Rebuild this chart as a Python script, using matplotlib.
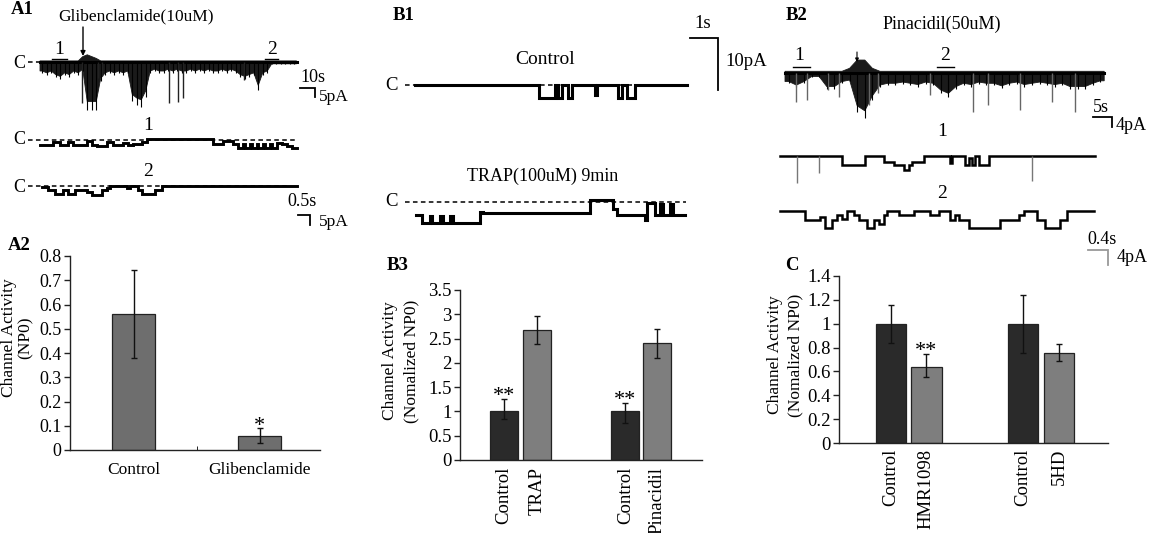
import numpy as np
import matplotlib
matplotlib.use('Agg')
import matplotlib.pyplot as plt
from matplotlib.ticker import FuncFormatter

W, H = 1153, 533
plt.rcParams['font.family'] = ['Liberation Serif', 'DejaVu Serif']

# ------------------------------------------------------------------ data
# A2 bar chart
a2_cats = ['Control', 'Glibenclamide']
a2_vals = [0.561, 0.058]
a2_lo = [0.180, 0.031]
a2_hi = [0.181, 0.031]
a2_sig = ['', '*']
a2_yticks = [0, 0.1, 0.2, 0.3, 0.4, 0.5, 0.6, 0.7, 0.8]

# B3 bar chart
b3_cats = ['Control', 'TRAP', 'Control', 'Pinacidil']
b3_vals = [1.00, 2.67, 1.00, 2.40]
b3_lo = [0.16, 0.29, 0.24, 0.31]
b3_hi = [0.25, 0.29, 0.17, 0.30]
b3_sig = ['**', '', '**', '']
b3_yticks = [0, 0.5, 1, 1.5, 2, 2.5, 3, 3.5]

# C bar chart
c_cats = ['Control', 'HMR1098', 'Control', '5HD']
c_vals = [1.00, 0.641, 1.00, 0.751]
c_lo = [0.163, 0.089, 0.249, 0.062]
c_hi = [0.157, 0.104, 0.241, 0.078]
c_sig = ['', '**', '', '']
c_yticks = [0, 0.2, 0.4, 0.6, 0.8, 1, 1.2, 1.4]

# A1 overview trace (3-s bins): downward / upward envelope (pA)
a1_bin_s = 3.0
a1_depth = [5, 6, 5, 7, 8, 6, 7, 5, 6, 4,
            22, 22, 22, 9, 6, 5, 6, 5, 6, 5,
            18, 20, 21, 16, 5, 4, 5, 5, 4, 5,
            4, 5, 5, 4, 5, 4, 5, 4, 5, 5,
            4, 5, 4, 5, 7, 8, 7, 6, 13, 6,
            5, 1, 1, 1, 1, 1, 1]
a1_up = [0.6, 0.6, 0.6, 0.6, 0.6, 0.6, 0.6, 0.6, 0.6, 3,
         4, 3, 2, 0.6, 0.6, 0.6, 0.6, 0.6, 0.6, 0.6,
         0.6, 0.6, 0.6, 0.6, 0.6, 0.6, 0.6, 0.6, 0.6, 0.6,
         0.6, 0.6, 0.6, 0.6, 0.6, 0.6, 0.6, 0.6, 0.6, 0.6,
         0.6, 0.6, 0.6, 0.6, 0.6, 0.6, 0.6, 0.6, 0.6, 0.6,
         0.6, 0.6, 0.6, 0.6, 0.6, 0.6, 0.6]
a1_spike_t = [28.0, 38.5, 41.0, 86.0, 92.0, 95.0, 136.0]
a1_spike_d = [23.0, 9.0, 8.0, 23.0, 22.0, 20.0, 10.0]

# A1 expanded traces (s, pA)
a1s1_edges = [0, 0.56, 0.83, 1.18, 1.39, 1.94, 2.15, 2.36, 2.78, 3.06, 3.47, 3.68,
              3.89, 4.24, 4.44, 7.22, 7.64, 8.06, 8.26, 8.47, 8.54, 8.75, 8.82,
              9.03, 9.10, 9.31, 9.38, 9.58, 9.65, 9.86, 10.07, 10.28, 10.49, 10.69]
a1s1_levels = [-2.5, -1, -2.5, -1, -2.5, -0.5, -2.5, -3, -1, -2.5, -1.5, -2.5,
               -2, -1, 0.3, -1.8, -0.3, -2, -4, -2, -4, -2, -4, -2, -4, -2, -4,
               -2, -4, -1.5, -2, -3, -4]
a1s2_edges = [0.07, 0.35, 0.63, 0.97, 1.18, 1.46, 1.94, 2.15, 2.57, 2.78, 2.92,
              3.61, 3.75, 4.10, 4.24, 4.79, 5.07, 10.69]
a1s2_levels = [-0.5, -2, -4, -2, -4, -2, -3, -4.5, -2, -1, 0, -1, 0, -2, -4, -2, 0]

# B1 traces (s, pA)
b1c_edges = [0, 4.44, 5.0, 5.12, 5.24, 5.48, 5.60, 6.43, 6.49, 7.26, 7.38, 7.56, 7.86, 9.70]
b1c_levels = [0, -2.5, 0, -2.5, 0, -2.5, 0, -2, 0, -2.5, 0, -2.5, 0]
b1t_edges = [0, 0.20, 0.50, 0.56, 0.86, 0.98, 1.21, 1.33, 2.29, 2.40, 6.21, 7.05,
             7.17, 8.18, 8.24, 8.54, 8.71, 8.83, 9.07, 9.19, 9.61]
b1t_levels = [-2.6, -4.2, -2.8, -4.2, -2.8, -4.2, -2.8, -4.2, -2.0, -2.2, 0.3,
              -1.5, -2.5, -3.5, -0.2, -2.5, -0.5, -2.5, -0.5, -2.5]

# B2 overview trace (2-s bins)
b2_bin_s = 2.0
b2_depth = [3.3, 4.7, 3.3, 1.3, 1.3, 5.3, 5.3, 3.3, 2.7, 13,
            15, 9, 4.7, 4.0, 4.0, 3.5, 4.0, 4.5, 3.5, 4.0,
            6.7, 8.0, 5.3, 4.0, 4.5, 3.5, 4.0, 4.0, 5.0, 4.0,
            3.5, 4.5, 4.0, 3.5, 4.0, 4.5, 4.0, 5.3, 5.3, 5.3,
            4.0, 3.0]
b2_up = [0.8, 0.8, 0.8, 0.8, 0.8, 0.8, 0.8, 0.8, 2, 5.3,
         5.3, 2, 0.8, 0.8, 0.8, 0.8, 0.8, 0.8, 0.8, 0.8,
         0.8, 0.8, 0.8, 0.8, 0.8, 0.8, 0.8, 0.8, 0.8, 0.8,
         0.8, 0.8, 0.8, 0.8, 0.8, 0.8, 0.8, 0.8, 0.8, 0.8,
         0.8, 0.8]
b2_spike_t = [2.9, 5.7, 11.2, 14.3, 22.2, 24.6, 38.2, 49.6, 53.5, 61.8, 70.2, 76.3]
b2_spike_d = [11.3, 10.7, 6.7, 9.3, 12.7, 8.0, 8.7, 15.3, 12.7, 14.7, 11.3, 15.3]

# B2 expanded traces
b2s1_edges = [0, 1.23, 1.70, 2.07, 2.27, 2.47, 2.57, 2.63, 2.87, 3.40, 3.43, 3.70,
              3.77, 3.83, 3.90, 3.97, 4.17, 6.30]
b2s1_levels = [0, -2.4, 0, -1.5, -2.4, -3.7, -2.4, -1.5, 0, -2, 0, -2.4, -0.5,
               -2.4, 0, -2.4, 0]
b2s1_spike_t = [0.33, 0.77, 5.03]
b2s1_spike_d = [7.3, 4.6, 6.8]
b2s2_edges = [0, 0.5, 0.8, 0.9, 1.03, 1.13, 1.23, 1.33, 1.47, 1.57, 1.73, 1.87,
              1.97, 2.07, 2.13, 2.37, 2.67, 3.0, 3.17, 3.4, 3.5, 3.57, 3.77, 4.4,
              4.77, 4.87, 5.13, 5.3, 5.6, 5.73, 6.27]
b2s2_levels = [0, -2.4, -1.5, -4.5, -2.4, -1, -2, 0, -1, -2.4, -4.5, -2.4, -3.5,
               -1, 0, -1, 0, -1, 0, -2.4, -1, -2.4, -4.5, -2.4, -1, 0, -2.4,
               -4.5, -2.4, 0]

# ------------------------------------------------------------------ figure
fig = plt.figure(figsize=(W / 100, H / 100), dpi=100)


def px_axes(x0, y0, x1, y1):
    return fig.add_axes([x0 / W, 1 - y1 / H, (x1 - x0) / W, (y1 - y0) / H])


def trace_ax(x0, y0, pps, ppa):
    """full-figure axes where t=0 at pixel x0 and 0 pA at pixel y0"""
    ax = fig.add_axes([0, 0, 1, 1], facecolor='none')
    ax.set_xlim(-x0 / pps, (W - x0) / pps)
    ax.set_ylim((y0 - H) / ppa, y0 / ppa)
    ax.axis('off')
    return ax


def step_trace(ax, edges, levels, lw=1.9, color='k'):
    ax.step(edges, list(levels) + [levels[-1]], where='post', color=color,
            lw=lw, solid_joinstyle='miter')


def dense_trace(ax, bin_s, depth, up):
    n = len(depth)
    dep = np.asarray(depth, dtype=float)
    upv = np.asarray(up, dtype=float)
    centers = (np.arange(n) + 0.5) * bin_s
    x = np.concatenate([[0.0], centers, [n * bin_s]])
    lower = -np.concatenate([[dep[0]], dep, [dep[-1]]])
    upper = np.concatenate([[upv[0]], upv, [upv[-1]]])
    xs = np.concatenate([x, x[::-1]])
    ys = np.concatenate([lower, upper[::-1]])
    ax.fill(xs, ys, facecolor='#1a1a1a', edgecolor='#1a1a1a', lw=0.6)
    ax.plot([0, n * bin_s], [0, 0], color='k', lw=2.2)
    # vertical streaks poking out of the band
    ax.vlines(centers, -dep * 1.2, 0, color='k', lw=0.8)


def dashed(ax, t0, t1):
    ax.plot([t0, t1], [0, 0], color='k', lw=1.1, dashes=(3, 2.2), zorder=0)


def scalebar(ax, t, y, dt, dy, color='k'):
    ax.plot([t, t + dt, t + dt], [y, y, y - dy], color=color, lw=1.3,
            solid_joinstyle='miter')


# ---- A1 traces
ax = trace_ax(40, 62, 1.5, 1.8)
dashed(ax, -8, 0)
dense_trace(ax, a1_bin_s, a1_depth, a1_up)
ax.vlines(a1_spike_t, np.negative(a1_spike_d), 0, color='#222222', lw=1.0)
scalebar(ax, 173.3, -14.4, 10, 5)

ax = trace_ax(40, 140, 24, 2.0)
dashed(ax, -0.5, 10.75)
step_trace(ax, a1s1_edges, a1s1_levels, lw=2.1)
scalebar(ax, 10.75, -37.5, 0.5, 5)

ax = trace_ax(40, 186, 24, 2.0)
dashed(ax, -0.5, 10.3)
step_trace(ax, a1s2_edges, a1s2_levels, lw=2.1)

# ---- B1 traces
ax = trace_ax(415, 85, 28, 5.2)
dashed(ax, -0.36, 9.7)
step_trace(ax, b1c_edges, b1c_levels, lw=2.2)
scalebar(ax, 9.82, 9.04, 1, 10)

ax = trace_ax(416, 201.5, 28, 5.2)
dashed(ax, -0.4, 9.65)
step_trace(ax, b1t_edges, b1t_levels, lw=2.2)

# ---- B2 traces
ax = trace_ax(785, 73.3, 3.8, 2.5)
dense_trace(ax, b2_bin_s, b2_depth, b2_up)
ax.vlines(b2_spike_t, np.negative(b2_spike_d), 0, color='#666666', lw=1.0)
scalebar(ax, 81.05, -17.5, 5, 4)

ax = trace_ax(780, 156, 50, 3.75)
step_trace(ax, b2s1_edges, b2s1_levels, lw=1.8)
ax.vlines(b2s1_spike_t, np.negative(b2s1_spike_d), 0, color='#777777', lw=1.0)

ax = trace_ax(780, 211, 50, 3.75)
step_trace(ax, b2s2_edges, b2s2_levels, lw=1.8)
scalebar(ax, 6.16, -10.4, 0.4, 4, color='#999999')


# ---- bar charts
def bar_panel(box, xlim, ylim, pos, vals, lo, hi, colors, width, cats,
              yticks, sig, rot, tick_fs, cat_fs, pad):
    ax = px_axes(*box)
    ax.bar(pos, vals, width=width, color=colors, edgecolor='#222222', lw=0.9,
           zorder=2)
    ax.errorbar(pos, vals, yerr=[lo, hi], fmt='none', ecolor='#111111',
                elinewidth=1.0, capsize=2.5, capthick=1.0, zorder=3)
    for p, v, h, s in zip(pos, vals, hi, sig):
        if s:
            ax.annotate(s, xy=(p, v + h), xytext=(0, -1.5),
                        textcoords='offset points', ha='center',
                        va='baseline', fontsize=16)
    ax.set_xlim(*xlim)
    ax.set_ylim(*ylim)
    ax.set_facecolor('none')
    for sp in ('top', 'right'):
        ax.spines[sp].set_visible(False)
    for sp in ('left', 'bottom'):
        ax.spines[sp].set_color('#222222')
        ax.spines[sp].set_linewidth(1.0)
    ax.set_yticks(yticks)
    ax.yaxis.set_major_formatter(FuncFormatter(lambda v, _: f'{v:g}'))
    ax.tick_params(axis='y', direction='out', length=4, width=1.0,
                   labelsize=tick_fs, pad=2, color='#222222')
    if rot:
        ax.set_xticks(pos, cats, rotation=90, va='top', ha='center')
    else:
        ax.set_xticks(pos, cats)
    ax.tick_params(axis='x', length=0, labelsize=cat_fs, pad=pad)
    return ax


dark, mid = '#2a2a2a', '#7e7e7e'
ax = bar_panel((70, 256, 320, 450), (-0.504, 1.48), (0, 0.8), [0, 1], a2_vals,
               a2_lo, a2_hi, ['#6e6e6e', '#6e6e6e'], 0.34, a2_cats, a2_yticks,
               a2_sig, False, 13, 12.5, 9)
ax.set_xticks([0.5], minor=True)
ax.tick_params(axis='x', which='minor', direction='in', length=3)

bar_panel((460, 290, 702, 460), (-1.33, 6.0), (0, 3.5), [0, 1, 3.68, 4.65],
          b3_vals, b3_lo, b3_hi, [dark, mid, dark, mid], 0.85, b3_cats,
          b3_yticks, b3_sig, True, 13.5, 13.5, 5)

bar_panel((839, 276, 1108, 443), (-1.46, 6.11), (0, 1.4), [0, 1, 3.72, 4.73],
          c_vals, c_lo, c_hi, [dark, mid, dark, mid], 0.85, c_cats,
          c_yticks, c_sig, True, 13.5, 13.5, 4)

# ---- overlay for labels / annotations (pixel coordinates)
ov = fig.add_axes([0, 0, 1, 1], facecolor='none')
ov.set_xlim(0, W)
ov.set_ylim(H, 0)
ov.axis('off')


def T(x, y, s, fs=13, ha='left', **kw):
    ov.text(x, y, s, fontsize=fs, ha=ha, va='center', **kw)


def uline(x0, x1, y):
    ov.plot([x0, x1], [y, y], color='k', lw=1.0)


for lab, x, y in [('A1', 11, 10), ('A2', 8, 245), ('B1', 393, 15),
                  ('B2', 786, 15), ('B3', 387, 265), ('C', 785, 266)]:
    T(x, y, lab, fs=13.5, fontweight='bold')

# A1
T(58, 16, 'Glibenclamide(10uM)', fs=12.5)
ov.annotate('', xy=(83, 56), xytext=(83, 27),
            arrowprops=dict(arrowstyle='-|>', color='k', lw=1.0,
                            mutation_scale=7, shrinkA=0, shrinkB=0))
T(59, 50, '1', fs=14, ha='center'); uline(52, 67, 59)
T(272, 50, '2', fs=14, ha='center'); uline(265, 278, 59)
T(19, 63, 'C', fs=13, ha='center')
T(300, 78, '10s', fs=13)
T(319, 97, '5pA', fs=12.5)
T(148, 125, '1', fs=14, ha='center')
T(19, 140, 'C', fs=13, ha='center')
T(148, 172, '2', fs=14, ha='center')
T(19, 187, 'C', fs=13, ha='center')
T(287, 202, '0.5s', fs=13)
T(319, 222, '5pA', fs=12.5)
T(17, 338, 'Channel Activity\n(NP0)', fs=12.5, ha='center', rotation=90,
  linespacing=1.05, multialignment='center')

# B1
T(545, 59, 'Control', fs=14, ha='center')
T(391, 86, 'C', fs=13.5, ha='center')
T(543, 176, 'TRAP(100uM) 9min', fs=13, ha='center')
T(391, 202, 'C', fs=13.5, ha='center')
T(703, 23, '1s', fs=13.5, ha='center')
T(725, 62, '10pA', fs=13.5)

# B2
T(942, 24, 'Pinacidil(50uM)', fs=13, ha='center')
T(799, 55, '1', fs=14, ha='center'); uline(793, 810, 67)
T(945, 55, '2', fs=14, ha='center'); uline(937, 954, 67)
ov.annotate('', xy=(857, 62), xytext=(857, 52),
            arrowprops=dict(arrowstyle='-|>', color='k', lw=0.8,
                            mutation_scale=5, shrinkA=0, shrinkB=0))
T(1093, 108, '5s', fs=13)
T(1116, 125, '4pA', fs=13)
T(942, 132, '1', fs=14, ha='center')
T(942, 193, '2', fs=14, ha='center')
T(1087, 239, '0.4s', fs=13)
T(1117, 257, '4pA', fs=13)

# y labels of B3 and C
T(401, 361, 'Channel Activity\n(Nomalized NP0)', fs=12.5, ha='center',
  rotation=90, linespacing=1.45, multialignment='center')
T(785, 355, 'Channel Activity\n(Nomalized NP0)', fs=12.5, ha='center',
  rotation=90, linespacing=1.4, multialignment='center')

fig.savefig('out.png', dpi=100)
